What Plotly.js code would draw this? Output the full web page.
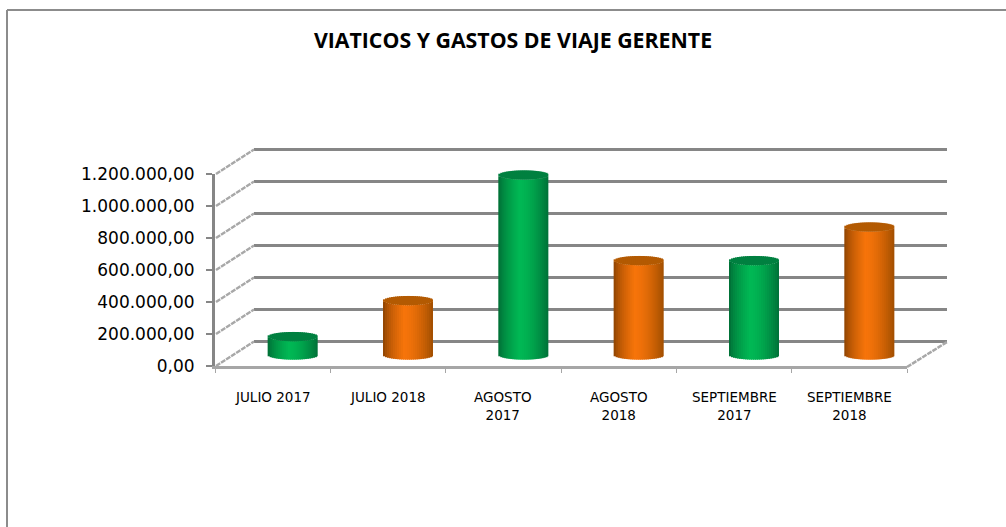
<!DOCTYPE html>
<html><head><meta charset="utf-8">
<script src="https://cdn.plot.ly/plotly-3.0.1.min.js"></script>
<style>html,body{margin:0;padding:0;background:#fff}#c{width:1006px;height:527px}</style>
</head><body><div id="c"></div>
<script>
const categories = ["JULIO 2017","JULIO 2018","AGOSTO<br>2017","AGOSTO<br>2018","SEPTIEMBRE<br>2017","SEPTIEMBRE<br>2018"];
const values = [115000,340000,1125000,590000,590000,800000];
const yTickVals = [0,200000,400000,600000,800000,1000000,1200000];
const yTickText = ["0,00","200.000,00","400.000,00","600.000,00","800.000,00","1.000.000,00","1.200.000,00"];
const titleText = "VIATICOS Y GASTOS DE VIAJE GERENTE";
const greenShade = {edge:[0,100,50], mid:[0,184,84], right:[0,112,56], cap:"#008040"};
const orangeShade = {edge:[130,62,0], mid:[246,116,10], right:[160,78,0], cap:"#b35a02"};
const seriesShade = [greenShade,orangeShade,greenShade,orangeShade,greenShade,orangeShade];

const W=1006,H=527;
const px=v=>v/W, py=v=>1-v/H;
const grey="#868686";
const STRIPS=25, barW=0.434, capR=29000;

function mix(a,b,t){return "rgb("+a.map((c,i)=>Math.round(c+(b[i]-c)*t)).join(",")+")";}
function shade(s,t){
  const peak=0.42;
  if(t<peak){const k=Math.pow(t/peak,0.6);return mix(s.edge,s.mid,k);}
  const k=Math.pow((t-peak)/(1-peak),1.6);return mix(s.mid,s.right,k);
}
const traces=[];
traces.push({type:"scatter",x:[categories[0]],y:[0],xaxis:"x",yaxis:"y",mode:"none",showlegend:false,hoverinfo:"skip"});
traces.push({type:"scatter",x:[categories[0]],y:[0],xaxis:"x2",yaxis:"y2",mode:"none",showlegend:false,hoverinfo:"skip"});
const capTraces=[];
for(let s=0;s<STRIPS;s++){
  const t=(s+0.5)/STRIPS, u=2*t-1, h=capR*Math.sqrt(1-u*u);
  const off=-barW/2+s*barW/STRIPS;
  const wid=Math.min(barW/STRIPS*1.6, barW/2-off);
  traces.push({type:"bar",x:categories,y:values,
    base:values.map(()=>-h),offset:off,width:wid,xaxis:"x3",yaxis:"y3",cliponaxis:false,
    marker:{color:seriesShade.map(c=>shade(c,t)),line:{width:0}},showlegend:false,hoverinfo:"skip"});
  capTraces.push({type:"bar",x:categories,y:values.map(()=>2*h),
    base:values.map(v=>v-h),offset:off,width:wid,xaxis:"x3",yaxis:"y3",cliponaxis:false,
    marker:{color:seriesShade.map(c=>c.cap),line:{width:0}},showlegend:false,hoverinfo:"skip"});
}
traces.push(...capTraces);
const shapes=[];
shapes.push({type:"line",xref:"paper",yref:"paper",x0:px(7),x1:px(7),y0:py(10),y1:py(530),line:{color:"#8c8c8c",width:2}});
shapes.push({type:"line",xref:"paper",yref:"paper",x0:px(7),x1:px(1010),y0:py(10),y1:py(10),line:{color:"#8c8c8c",width:2}});
const yFront0=366, pxPerUnit=192/1200000;
yTickVals.forEach(v=>{
  const y=yFront0-v*pxPerUnit;
  shapes.push({type:"line",xref:"paper",yref:"paper",x0:px(216),x1:px(254),y0:py(y),y1:py(y-24.5),line:{color:"#a8a8a8",width:2.5,dash:"5px,1px"}});
});
shapes.push({type:"line",xref:"paper",yref:"paper",x0:px(907),x1:px(947),y0:py(367),y1:py(342),line:{color:"#a8a8a8",width:2.5,dash:"5px,1px"}});

const pad=100000, padPx=pad*pxPerUnit;
const layout={
  width:W,height:H,margin:{l:0,r:0,t:0,b:0},paper_bgcolor:"#fff",plot_bgcolor:"rgba(0,0,0,0)",
  barmode:"overlay",showlegend:false,shapes:shapes,
  title:{text:"<b>"+titleText+"</b>",x:513/W,xanchor:"center",y:1-41/H,yanchor:"middle",font:{family:"Open Sans",size:21.3,color:"#000"}},
  xaxis:{domain:[px(254),px(947)],type:"category",range:[-0.5,5.5],showgrid:false,showline:false,ticks:"",showticklabels:false,zeroline:false,anchor:"y"},
  yaxis:{domain:[py(342+padPx),py(149.5-padPx)],range:[-pad,1200000+pad],tickmode:"array",tickvals:yTickVals,showgrid:true,gridcolor:grey,gridwidth:3,zeroline:false,showline:false,ticks:"",showticklabels:false,anchor:"x"},
  xaxis2:{domain:[px(215),px(907)],type:"category",range:[-0.5,5.5],anchor:"y2",side:"bottom",showgrid:false,zeroline:false,showline:true,linecolor:"#a6a6a6",linewidth:3,
    tickmode:"array",tickvals:[-0.5,0.5,1.5,2.5,3.5,4.5,5.5],ticktext:["","","","","","",""],ticks:"outside",ticklen:4,tickcolor:"#a6a6a6",tickwidth:1},
  yaxis2:{domain:[py(366),py(174)],range:[0,1200000],anchor:"x2",side:"left",showgrid:false,zeroline:false,showline:true,linecolor:grey,linewidth:3,
    tickmode:"array",tickvals:yTickVals,ticktext:yTickText,ticks:"outside",ticklen:6,tickcolor:grey,tickwidth:2,ticklabelstandoff:8,tickfont:{family:"DejaVu Sans",size:17,color:"#000"}},
  xaxis3:{domain:[px(235),px(927)],type:"category",range:[-0.5,5.5],anchor:"y3",showgrid:false,zeroline:false,showline:false,ticks:"",showticklabels:false},
  yaxis3:{domain:[py(355+padPx),py(163-padPx)],range:[-pad,1200000+pad],anchor:"x3",showgrid:false,zeroline:false,showline:false,ticks:"",showticklabels:false}
};
layout.annotations=categories.map((c,i)=>({xref:"paper",yref:"paper",x:px(215+(i+0.5)*692/6),y:py(387),xanchor:"center",yanchor:"top",align:"center",showarrow:false,text:c,font:{family:"DejaVu Sans",size:13.5,color:"#000"}}));
Plotly.newPlot("c",traces,layout,{displayModeBar:false,staticPlot:true});
</script></body></html>
